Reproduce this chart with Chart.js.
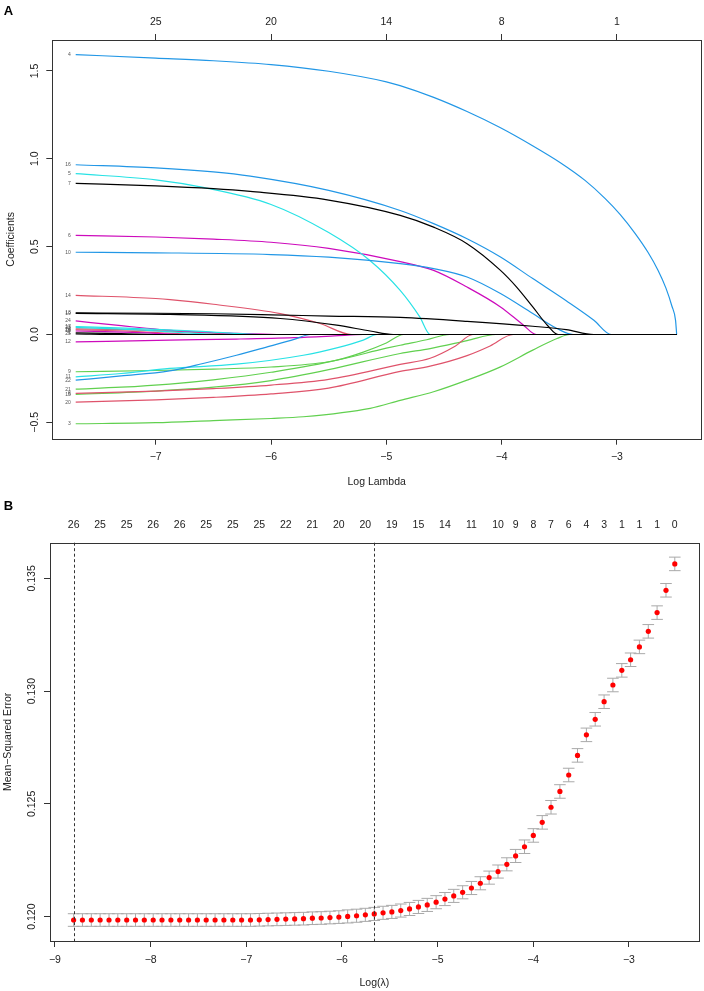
<!DOCTYPE html>
<html>
<head>
<meta charset="utf-8">
<script src="https://cdn.jsdelivr.net/npm/chart.js@4.4.1/dist/chart.umd.min.js"></script>
<style>
  html, body { margin: 0; padding: 0; background: #fff; }
  #wrap { position: relative; width: 704px; height: 991px; }
  canvas { position: absolute; left: 0; }
  #coefChart { top: 0; }
  #cvChart { top: 495px; }
</style>
</head>
<body>
<div id="wrap">
  <canvas id="coefChart" width="704" height="495"></canvas>
  <canvas id="cvChart" width="704" height="496"></canvas>
</div>
<script>
// ---------- Panel A: lasso coefficient paths ----------
const coefXTicks = [-7, -6, -5, -4, -3];
const coefTopLabels = ['25', '20', '14', '8', '1'];
const coefYTicks = [-0.5, 0, 0.5, 1.0, 1.5];

// variable number of each path (same order as coefPaths)
const varLabels = ['13', '7', '19', '1', '25', '4', '16', '10', '22', '5', '11', '17', '23',
                   '6', '24', '12', '18', '14', '2', '26', '8', '20', '3', '9', '21', '15'];

// [log lambda, coefficient]
const coefPaths = [
  [[-7.694,0.123],[-7,0.121],[-6.5,0.118],[-6,0.112],[-5.5,0.105],[-4.88,0.097],[-4.3,0.075],[-3.73,0.047],[-3.44,0.028],[-3.2,0],[-2.482,0]],
  [[-7.694,0.86],[-7,0.846],[-6.5,0.83],[-6.18,0.814],[-5.5,0.765],[-4.88,0.678],[-4.59,0.611],[-4.3,0.517],[-4.01,0.365],[-3.87,0.27],[-3.73,0.157],[-3.6,0.05],[-3.51,0],[-2.482,0]],
  [[-7.694,0.12],[-6.876,0.114],[-5.92,0.091],[-5.43,0.053],[-5.14,0.02],[-4.94,0],[-2.482,0]],
  [[-7.694,0.010],[-7.3,0.005],[-6.9,0],[-2.482,0]],
  [[-7.694,0.004],[-7.3,0],[-2.482,0]],
  [[-7.694,1.593],[-7,1.573],[-6.5,1.558],[-6,1.536],[-5.5,1.498],[-5,1.438],[-4.881,1.4165],[-4.595,1.351],[-4.3,1.269],[-4.014,1.178],[-3.728,1.073],[-3.494,0.979],[-3.277,0.877],[-3.104,0.775],[-2.973,0.684],[-2.843,0.576],[-2.731,0.468],[-2.644,0.366],[-2.575,0.264],[-2.523,0.161],[-2.492,0.082],[-2.482,0]],
  [[-7.694,0.966],[-7,0.948],[-6.5,0.925],[-6.18,0.901],[-5.5,0.82],[-4.88,0.706],[-4.59,0.631],[-4.3,0.545],[-4.01,0.441],[-3.73,0.318],[-3.44,0.192],[-3.2,0.081],[-3.05,0],[-2.482,0]],
  [[-7.694,0.468],[-7,0.465],[-6,0.455],[-5.5,0.44],[-4.88,0.403],[-4.59,0.375],[-4.3,0.327],[-4.01,0.233],[-3.73,0.119],[-3.52,0.034],[-3.38,0],[-2.482,0]],
  [[-7.694,-0.26],[-7.3,-0.236],[-6.88,-0.207],[-6.59,-0.165],[-6.3,-0.118],[-6.01,-0.066],[-5.8,-0.028],[-5.66,0],[-2.482,0]],
  [[-7.694,0.915],[-7,0.88],[-6.59,0.837],[-6,0.74],[-5.5,0.58],[-5.14,0.42],[-4.88,0.251],[-4.71,0.10],[-4.62,0],[-2.482,0]],
  [[-7.694,-0.241],[-7.3,-0.222],[-6.88,-0.193],[-6.3,-0.169],[-5.72,-0.118],[-5.43,-0.076],[-5.2,-0.032],[-5.08,0],[-2.482,0]],
  [[-7.694,0.045],[-7.2,0.035],[-6.6,0.018],[-6.1,0],[-2.482,0]],
  [[-7.694,0.040],[-7.2,0.028],[-6.8,0.012],[-6.45,0],[-2.482,0]],
  [[-7.694,0.564],[-7,0.555],[-6.5,0.543],[-6,0.525],[-5.5,0.49],[-4.88,0.415],[-4.59,0.365],[-4.3,0.27],[-4.01,0.157],[-3.81,0.053],[-3.70,0],[-2.482,0]],
  [[-7.694,0.077],[-7.3,0.05],[-6.79,0.02],[-6.3,0.006],[-5.95,0],[-2.482,0]],
  [[-7.694,-0.042],[-6.88,-0.032],[-6.3,-0.026],[-5.8,-0.018],[-5.45,-0.008],[-5.2,0],[-2.482,0]],
  [[-7.694,0.020],[-7.2,0.012],[-6.7,0],[-2.482,0]],
  [[-7.694,0.223],[-7,0.205],[-6.876,0.199],[-6.5,0.172],[-5.92,0.119],[-5.575,0.0625],[-5.3,0],[-2.482,0]],
  [[-7.694,0.032],[-7.2,0.026],[-6.7,0.014],[-6.2,0],[-2.482,0]],
  [[-7.694,0.027],[-7.2,0.018],[-6.9,0.008],[-6.6,0],[-2.482,0]],
  [[-7.694,-0.335],[-7,-0.322],[-6.5,-0.308],[-6,-0.288],[-5.5,-0.255],[-4.88,-0.17],[-4.62,-0.135],[-4.4,-0.065],[-4.25,0],[-2.482,0]],
  [[-7.694,-0.385],[-7,-0.372],[-6.5,-0.358],[-6,-0.338],[-5.5,-0.305],[-4.88,-0.21],[-4.62,-0.18],[-4.3,-0.12],[-4.1,-0.065],[-3.9,0],[-2.482,0]],
  [[-7.694,-0.508],[-7,-0.502],[-6.5,-0.49],[-6,-0.478],[-5.72,-0.468],[-5.14,-0.42],[-4.88,-0.375],[-4.59,-0.326],[-4.3,-0.26],[-4.01,-0.184],[-3.73,-0.089],[-3.52,-0.023],[-3.41,0],[-2.482,0]],
  [[-7.694,-0.212],[-7,-0.205],[-6.5,-0.197],[-6,-0.185],[-5.5,-0.155],[-5,-0.078],[-4.88,-0.061],[-4.65,-0.03],[-4.45,0],[-2.482,0]],
  [[-7.694,-0.311],[-7.3,-0.3],[-6.88,-0.282],[-6.5,-0.258],[-6,-0.215],[-5.43,-0.146],[-5.2,-0.1],[-5.0,-0.048],[-4.85,0],[-2.482,0]],
  [[-7.694,-0.341],[-7,-0.322],[-6.5,-0.3],[-6,-0.262],[-5.5,-0.2],[-4.88,-0.108],[-4.62,-0.08],[-4.3,-0.035],[-4.05,0],[-2.482,0]]
];

// ---------- Panel B: cross-validation curve ----------
const logLambda = [
  -8.805, -8.713, -8.620, -8.528, -8.435, -8.343, -8.250, -8.158, -8.066, -7.973,
  -7.881, -7.788, -7.696, -7.603, -7.511, -7.419, -7.326, -7.234, -7.141, -7.049,
  -6.956, -6.864, -6.772, -6.679, -6.587, -6.494, -6.402, -6.309, -6.217, -6.125,
  -6.032, -5.940, -5.847, -5.755, -5.662, -5.570, -5.478, -5.385, -5.293, -5.200,
  -5.108, -5.015, -4.923, -4.831, -4.738, -4.646, -4.553, -4.461, -4.368, -4.276,
  -4.184, -4.091, -3.999, -3.906, -3.814, -3.721, -3.629, -3.537, -3.444, -3.352,
  -3.259, -3.167, -3.074, -2.982, -2.890, -2.797, -2.705, -2.612, -2.520
];
const cvMse = [
  0.11985, 0.11985, 0.11985, 0.11985, 0.11985, 0.11985, 0.11985, 0.11985, 0.11985, 0.11985,
  0.11985, 0.11985, 0.11985, 0.11985, 0.11985, 0.11985, 0.11985, 0.11985, 0.11985, 0.11985,
  0.11985, 0.11986, 0.11987, 0.11988, 0.11989, 0.11990, 0.11991, 0.11993, 0.11994, 0.11996,
  0.11998, 0.12001, 0.12004, 0.12008, 0.12012, 0.12017, 0.12021, 0.12027, 0.12034, 0.12043,
  0.12052, 0.12064, 0.12078, 0.12092, 0.12108, 0.12127, 0.12148, 0.12173, 0.12200, 0.12232,
  0.12269, 0.12310, 0.12360, 0.12418, 0.12485, 0.12555, 0.12628, 0.12715, 0.12806, 0.12875,
  0.12953, 0.13027, 0.13092, 0.13139, 0.13196, 0.13265, 0.13348, 0.13447, 0.13564
];
const cvSe = [
  0.00028, 0.00028, 0.00028, 0.00028, 0.00028, 0.00028, 0.00028, 0.00028, 0.00028, 0.00028,
  0.00028, 0.00028, 0.00028, 0.00028, 0.00028, 0.00028, 0.00028, 0.00028, 0.00028, 0.00028,
  0.00028, 0.00028, 0.00028, 0.00028, 0.00028, 0.00028, 0.00028, 0.00028, 0.00028, 0.00028,
  0.00028, 0.00029, 0.00029, 0.00029, 0.00029, 0.00029, 0.00029, 0.00029, 0.00029, 0.00029,
  0.00029, 0.00029, 0.00029, 0.00029, 0.00029, 0.00029, 0.00029, 0.00029, 0.00029, 0.00029,
  0.00029, 0.00030, 0.00030, 0.00030, 0.00030, 0.00030, 0.00030, 0.00030, 0.00030, 0.00030,
  0.00030, 0.00030, 0.00030, 0.00030, 0.00030, 0.00030, 0.00030, 0.00030, 0.00030
];
const cvTopX = [
  -8.805, -8.528, -8.250, -7.973, -7.696, -7.419, -7.141, -6.864, -6.587, -6.309,
  -6.032, -5.755, -5.478, -5.200, -4.923, -4.646, -4.368,
  -4.184, -3.999, -3.814, -3.629, -3.444, -3.259, -3.074, -2.890, -2.705, -2.520
];
const cvTopLabels = ['26', '25', '25', '26', '26', '25', '25', '25', '22', '21', '20', '20', '19', '15', '14', '11', '10',
                     '9', '8', '7', '6', '4', '3', '1', '1', '1', '0'];
const cvXTicks = [-9, -8, -7, -6, -5, -4, -3];
const cvYTicks = [0.120, 0.125, 0.130, 0.135];
const lambdaMinLog = -8.805;
const lambda1seLog = -5.662;

// ---------- helpers ----------
const rFont = '"Liberation Sans", Arial, sans-serif';
const rPalette = ['#000000', '#DF536B', '#61D04F', '#2297E6', '#28E2E5', '#CD0BBC'];
const minus = s => String(s).replace('-', '\u2212');
const tickFont = { family: rFont, size: 10.5 };

function fixSize(prop, v) { return s => { s[prop] = v; }; }
function setTicks(arr) { return s => { s.ticks = arr.map(v => ({ value: v })); }; }

function drawBox(chart) {
  const { ctx, chartArea: a } = chart;
  ctx.save();
  ctx.strokeStyle = '#333';
  ctx.lineWidth = 1;
  ctx.strokeRect(Math.round(a.left) + 0.5, Math.round(a.top) + 0.5,
                 Math.round(a.right - a.left), Math.round(a.bottom - a.top));
  ctx.restore();
}

function drawText(ctx, txt, x, y, rot, font, color) {
  ctx.save();
  ctx.translate(x, y);
  if (rot) ctx.rotate(rot);
  ctx.font = font;
  ctx.fillStyle = color || '#222';
  ctx.textAlign = 'center';
  ctx.textBaseline = 'middle';
  ctx.fillText(txt, 0, 0);
  ctx.restore();
}

function drawYTicks(chart, fmt, dx) {
  const ys = chart.scales.y, a = chart.chartArea;
  ys.ticks.forEach(t => {
    drawText(chart.ctx, fmt(t.value), a.left - dx, ys.getPixelForValue(t.value), -Math.PI / 2,
             '10.5px ' + rFont);
  });
}

const axisCommon = {
  border: { display: false },
  grid: { drawOnChartArea: false, drawTicks: true, tickLength: 6, color: '#333' }
};

// ---------- Chart A ----------
const coefDecor = {
  id: 'coefDecor',
  afterDatasetsDraw(chart) {
    const { ctx } = chart;
    const xs = chart.scales.x, ys = chart.scales.y;
    ctx.save();
    ctx.font = '5px ' + rFont;
    ctx.fillStyle = '#555';
    ctx.textAlign = 'right';
    ctx.textBaseline = 'middle';
    coefPaths.forEach((p, i) => {
      ctx.fillText(varLabels[i], xs.getPixelForValue(p[0][0]) - 5, ys.getPixelForValue(p[0][1]));
    });
    ctx.restore();
  },
  afterDraw(chart) {
    const a = chart.chartArea;
    drawBox(chart);
    drawYTicks(chart, v => minus(v.toFixed(1)), 17.3);
    drawText(chart.ctx, 'Log Lambda', (a.left + a.right) / 2, 482, 0, '10.5px ' + rFont);
    drawText(chart.ctx, 'Coefficients', 11, (a.top + a.bottom) / 2, -Math.PI / 2, '10.5px ' + rFont);
    drawText(chart.ctx, 'A', 8.5, 11, 0, 'bold 13px ' + rFont, '#000');
  }
};

new Chart(document.getElementById('coefChart'), {
  type: 'line',
  data: {
    datasets: coefPaths.map((p, i) => ({
      label: varLabels[i],
      data: p.map(d => ({ x: d[0], y: d[1] })),
      borderColor: rPalette[(Number(varLabels[i]) - 1) % 6],
      borderWidth: 1.2,
      pointRadius: 0,
      fill: false,
      cubicInterpolationMode: 'monotone'
    }))
  },
  options: {
    responsive: false,
    devicePixelRatio: 1,
    animation: false,
    layout: { padding: { left: 0, right: 3, top: 0, bottom: 0 } },
    plugins: { legend: { display: false }, tooltip: { enabled: false } },
    scales: {
      x: {
        ...axisCommon,
        type: 'linear', position: 'bottom', min: -7.897, max: -2.271,
        afterBuildTicks: setTicks(coefXTicks),
        afterFit: fixSize('height', 495 - 438.7),
        ticks: { font: tickFont, color: '#222', padding: 6.5, maxRotation: 0, autoSkip: false, callback: v => minus(v) }
      },
      x2: {
        ...axisCommon,
        type: 'linear', position: 'top', min: -7.897, max: -2.271,
        afterBuildTicks: setTicks(coefXTicks),
        afterFit: fixSize('height', 40),
        ticks: { font: tickFont, color: '#222', padding: 6, maxRotation: 0, autoSkip: false,
                 callback: (v, i) => coefTopLabels[i] }
      },
      y: {
        ...axisCommon,
        type: 'linear', min: -0.593, max: 1.676,
        afterBuildTicks: setTicks(coefYTicks),
        afterFit: fixSize('width', 52.3),
        ticks: { display: false }
      }
    }
  },
  plugins: [coefDecor]
});

// ---------- Chart B ----------
const cvDecor = {
  id: 'cvDecor',
  beforeDatasetsDraw(chart) {
    const { ctx } = chart;
    const xs = chart.scales.x, ys = chart.scales.y;
    ctx.save();
    ctx.strokeStyle = '#A9A9A9';
    ctx.lineWidth = 1;
    ctx.beginPath();
    logLambda.forEach((lx, i) => {
      const px = xs.getPixelForValue(lx);
      const hi = ys.getPixelForValue(cvMse[i] + cvSe[i]);
      const lo = ys.getPixelForValue(cvMse[i] - cvSe[i]);
      ctx.moveTo(px, hi); ctx.lineTo(px, lo);
      ctx.moveTo(px - 5.8, hi); ctx.lineTo(px + 5.8, hi);
      ctx.moveTo(px - 5.8, lo); ctx.lineTo(px + 5.8, lo);
    });
    ctx.stroke();
    ctx.restore();
  },
  afterDatasetsDraw(chart) {
    const { ctx, chartArea: a } = chart;
    const xs = chart.scales.x;
    ctx.save();
    ctx.strokeStyle = '#333';
    ctx.lineWidth = 1;
    ctx.setLineDash([3, 2.5]);
    [lambdaMinLog, lambda1seLog].forEach(v => {
      const px = Math.round(xs.getPixelForValue(v)) + 0.5;
      ctx.beginPath(); ctx.moveTo(px, a.top); ctx.lineTo(px, a.bottom); ctx.stroke();
    });
    ctx.restore();
  },
  afterDraw(chart) {
    const a = chart.chartArea;
    drawBox(chart);
    drawYTicks(chart, v => v.toFixed(3), 18.3);
    drawText(chart.ctx, 'Log(\u03bb)', (a.left + a.right) / 2, 983 - 495, 0, '10.5px ' + rFont);
    drawText(chart.ctx, 'Mean\u2212Squared Error', 8.5, (a.top + a.bottom) / 2, -Math.PI / 2, '10.5px ' + rFont);
    drawText(chart.ctx, 'B', 8.5, 506.7 - 495, 0, 'bold 13px ' + rFont, '#000');
  }
};

new Chart(document.getElementById('cvChart'), {
  type: 'line',
  data: {
    datasets: [{
      data: logLambda.map((x, i) => ({ x: x, y: cvMse[i] })),
      showLine: false,
      pointRadius: 2.6,
      pointBackgroundColor: '#FF0000',
      pointBorderWidth: 0
    }]
  },
  options: {
    responsive: false,
    devicePixelRatio: 1,
    animation: false,
    layout: { padding: { left: 0, right: 704 - 698.7, top: 0, bottom: 0 } },
    plugins: { legend: { display: false }, tooltip: { enabled: false } },
    scales: {
      x: {
        ...axisCommon,
        type: 'linear', position: 'bottom', min: -9.052, max: -2.27,
        afterBuildTicks: setTicks(cvXTicks),
        afterFit: fixSize('height', 496 - (941 - 495)),
        ticks: { font: tickFont, color: '#222', padding: 6.7, maxRotation: 0, autoSkip: false, callback: v => minus(v) }
      },
      x2: {
        type: 'linear', position: 'top', min: -9.052, max: -2.27,
        border: { display: false },
        grid: { display: false, drawTicks: false },
        afterBuildTicks: setTicks(cvTopX),
        afterFit: fixSize('height', 542.7 - 495),
        ticks: { font: tickFont, color: '#222', padding: 11.4, maxRotation: 0, autoSkip: false,
                 callback: (v, i) => cvTopLabels[i] }
      },
      y: {
        ...axisCommon,
        type: 'linear', min: 0.11892, max: 0.13658,
        afterBuildTicks: setTicks(cvYTicks),
        afterFit: fixSize('width', 50),
        ticks: { display: false }
      }
    }
  },
  plugins: [cvDecor]
});
</script>
</body>
</html>
